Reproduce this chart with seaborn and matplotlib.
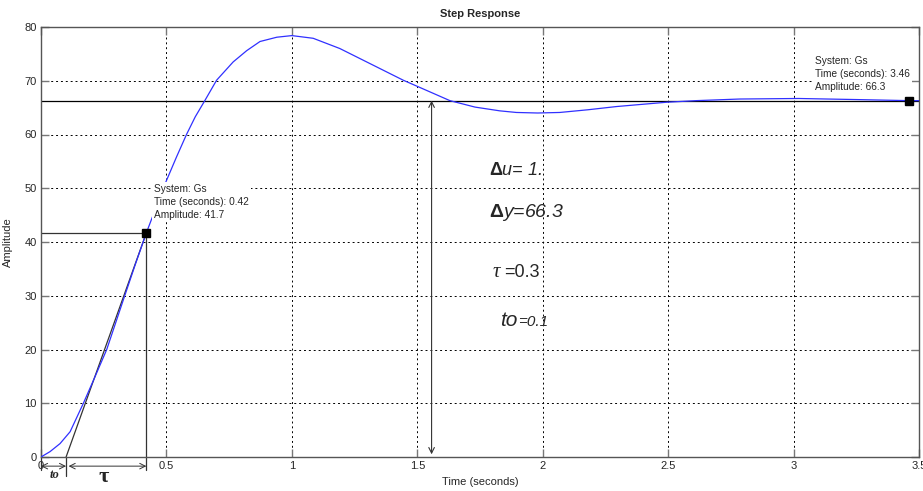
import numpy as np
import pandas as pd
import seaborn as sns
import matplotlib.pyplot as plt

# step response
time = [0, 0.036, 0.076, 0.116, 0.169, 0.215, 0.262, 0.295, 0.328, 0.375, 0.42,
        0.46, 0.498, 0.54, 0.58, 0.615, 0.653, 0.70, 0.766, 0.82, 0.873, 0.94, 1.0,
        1.085, 1.191, 1.324, 1.444, 1.503, 1.63, 1.73, 1.829, 1.895, 1.98, 2.068,
        2.18, 2.294, 2.493, 2.612, 2.785, 3.02, 3.25, 3.46, 3.5]
amplitude = [0, 1.0, 2.5, 4.7, 10.0, 14.9, 20.0, 24.6, 29.2, 35.7, 41.7,
             46.6, 51.2, 55.8, 60.0, 63.3, 66.3, 70.1, 73.5, 75.6, 77.3, 78.1, 78.4,
             77.9, 76.0, 72.9, 70.1, 68.9, 66.3, 65.1, 64.4, 64.1, 64.0, 64.1,
             64.6, 65.2, 66.0, 66.3, 66.6, 66.7, 66.5, 66.3, 66.3]

steady = 66.3
t_mark, y_mark = 0.42, 41.7
t_final = 3.46
t0 = 0.1
xticks = [0, 0.5, 1, 1.5, 2, 2.5, 3, 3.5]
xtick_labels = ["0", "0.5", "1", "1.5", "2", "2.5", "3", "3.5"]
yticks = [0, 10, 20, 30, 40, 50, 60, 70, 80]

df = pd.DataFrame({"t": time, "y": amplitude})

sns.set_style("white")
plt.rcParams["font.family"] = ["Liberation Sans", "DejaVu Sans"]
plt.rcParams["mathtext.fontset"] = "custom"
plt.rcParams["mathtext.rm"] = "Liberation Sans"
plt.rcParams["mathtext.it"] = "Liberation Sans:italic"
plt.rcParams["mathtext.bf"] = "Liberation Sans:bold"

fig = plt.figure(figsize=(9.23, 4.91), dpi=100)
ax = fig.add_axes([41 / 923, 34 / 491, 878 / 923, 430 / 491])

ax.set_xlim(0, 3.5)
ax.set_ylim(0, 80)
ax.set_xticks(xticks)
ax.set_xticklabels(xtick_labels)
ax.set_yticks(yticks)
ax.grid(True, color="black", linestyle=(0, (2, 3)), linewidth=0.7)
ax.tick_params(direction="in", length=6, width=1, color="#777777", labelsize=8,
               top=True, right=True, bottom=True, left=True, pad=3)
for s in ax.spines.values():
    s.set_color("#555555")
    s.set_linewidth(1)

sns.lineplot(data=df, x="t", y="y", color="#3030ff", linewidth=0.9, ax=ax, zorder=3)

# steady state line and construction lines
ax.axhline(steady, color="black", linewidth=0.9, zorder=2)
ax.plot([0, t_mark], [y_mark, y_mark], color="#333333", linewidth=0.9, zorder=2)
ax.plot([t_mark, t_mark], [y_mark, -2.5], color="#333333", linewidth=0.9, clip_on=False, zorder=2)
ax.plot([t0, t_mark], [0, y_mark], color="#333333", linewidth=0.9, zorder=2)
ax.plot([t0, t0], [0, -3.5], color="#333333", linewidth=0.9, clip_on=False)
ax.plot([0, 0], [0, -2.5], color="#333333", linewidth=0.9, clip_on=False)

ax.plot([t_mark], [y_mark], marker="s", color="black", markersize=6, zorder=5)
ax.plot([t_final], [steady], marker="s", color="black", markersize=6, zorder=5)

# arrows below axis
ax.annotate("", xy=(0, -1.7), xytext=(t0, -1.7), annotation_clip=False,
            arrowprops=dict(arrowstyle="<->", lw=0.7, color="#333333", shrinkA=0, shrinkB=0))
ax.annotate("", xy=(t0 + 0.01, -1.7), xytext=(t_mark, -1.7), annotation_clip=False,
            arrowprops=dict(arrowstyle="<->", lw=0.7, color="#333333", shrinkA=0, shrinkB=0))
ax.text(0.055, -3.3, "to", fontsize=9, style="italic", weight="bold",
        family="Liberation Serif", ha="center", va="center", clip_on=False)
ax.text(0.25, -3.7, "τ", fontsize=16, weight="bold",
        family="Liberation Serif", ha="center", va="center", clip_on=False)

# vertical delta-y arrow
ax.annotate("", xy=(1.557, 0.5), xytext=(1.557, steady), annotation_clip=False,
            arrowprops=dict(arrowstyle="<->", lw=0.8, color="#333333", shrinkA=0, shrinkB=0))

# data tips
box = dict(facecolor="white", edgecolor="none", pad=1.5)
ax.text(0.45, 50.8, "System: Gs\nTime (seconds): 0.42\nAmplitude: 41.7", fontsize=7.3,
        ha="left", va="top", bbox=box, zorder=4, linespacing=1.35)
ax.text(3.085, 74.6, "System: Gs\nTime (seconds): 3.46\nAmplitude: 66.3", fontsize=7.3,
        ha="left", va="top", bbox=box, zorder=4, linespacing=1.35)

# parameter notes
ax.text(1.785, 53.3, r"$\mathbf{\Delta}\mathit{u}$= 1.", fontsize=13, style="italic", va="center")
ax.text(1.785, 45.4, r"$\mathbf{\Delta}\mathit{y}$=66.3", fontsize=14, style="italic", va="center")
ax.text(1.80, 34.4, "τ", fontsize=15, style="italic", family="Liberation Serif", va="center")
ax.text(1.845, 34.4, "=0.3", fontsize=13, va="center")
ax.text(1.83, 25.4, "to", fontsize=15, style="italic", va="center")
ax.text(1.90, 25.2, "=0.1", fontsize=11, style="italic", va="center")

ax.set_title("Step Response", fontsize=8, weight="bold", pad=7)
ax.set_xlabel("Time (seconds)", fontsize=8, labelpad=4)
ax.set_ylabel("Amplitude", fontsize=8, labelpad=8)

fig.savefig("out.png", dpi=100)
